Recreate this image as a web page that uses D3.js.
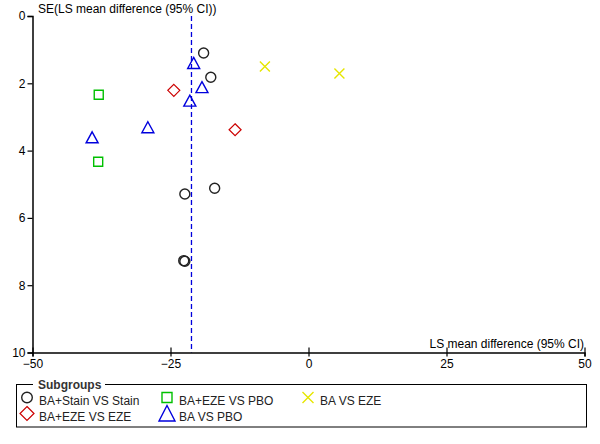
<!DOCTYPE html>
<html>
<head>
<meta charset="utf-8">
<script src="https://cdn.jsdelivr.net/npm/d3@7"></script>
<style>
  body { margin: 0; background: #fff; }
  text { font-family: "Liberation Sans", Arial, sans-serif; font-size: 12px; fill: #000; }
</style>
</head>
<body>
<svg id="chart" width="600" height="444"></svg>
<script>
// subgroups and their points: [LS mean difference, SE]
var groups = ["BA+Stain VS Stain", "BA+EZE VS PBO", "BA VS EZE", "BA+EZE VS EZE", "BA VS PBO"];
var stainPts = [[-19.0, 1.10], [-17.7, 1.82], [-22.4, 5.29], [-17.0, 5.12], [-22.6, 7.27], [-22.4, 7.29]];
var ezePboPts = [[-38.0, 2.34], [-38.1, 4.33]];
var baEzePts = [[-7.9, 1.50], [5.6, 1.71]];
var ezeEzePts = [[-24.4, 2.21], [-13.3, 3.38]];
var baPboPts = [[-20.8, 1.41], [-19.3, 2.13], [-21.5, 2.53], [-29.1, 3.32], [-39.2, 3.62]];
var pooledMean = -21.2;
var xTicks = [-50, -25, 0, 25, 50];
var yTicks = [0, 2, 4, 6, 8, 10];

var svg = d3.select("#chart");
var x = d3.scaleLinear().domain([-50, 50]).range([32.5, 584.5]);
var y = d3.scaleLinear().domain([0, 10]).range([16, 352.5]);

var markers = {
    "BA+Stain VS Stain": {color: "#222", shape: "circle", pts: stainPts},
    "BA+EZE VS PBO": {color: "#00c000", shape: "square", pts: ezePboPts},
    "BA VS EZE": {color: "#e6e600", shape: "cross", pts: baEzePts},
    "BA+EZE VS EZE": {color: "#cc0000", shape: "diamond", pts: ezeEzePts},
    "BA VS PBO": {color: "#0000dd", shape: "triangle", pts: baPboPts}
};

// marker outlines, plot size and legend size
var shapes = {
    circle: {plot: "c5", legend: "c5.3"},
    square: {plot: "M-4.5,-4.5h9v9h-9Z", legend: "M-5,-5h10v10h-10Z"},
    cross: {plot: "M-5,-5L5,5M-5,5L5,-5", legend: "M-5.5,-5.5L5.5,5.5M-5.5,5.5L5.5,-5.5"},
    diamond: {plot: "M0,-6L6,0L0,6L-6,0Z", legend: "M0,-7L7,0L0,7L-7,0Z"},
    triangle: {plot: "M0,-6L6,5L-6,5Z", legend: "M0,-8L8,7.5L-8,7.5Z"}
};

// draw one marker centred at (cx, cy)
function drawMarker(g, shape, color, cx, cy, kind) {
    var d = shapes[shape][kind];
    var s = g.append("g").attr("transform", "translate(" + cx + "," + cy + ")")
        .attr("fill", "none").attr("stroke", color).attr("stroke-width", shape == "diamond" ? 1.2 : 1.4);
    if (d[0] == "c") s.append("circle").attr("r", +d.slice(1));
    else s.append("path").attr("d", d);
}

// pooled mean line
svg.append("line")
    .attr("x1", x(pooledMean)).attr("x2", x(pooledMean))
    .attr("y1", y(0)).attr("y2", y(10))
    .attr("stroke", "#0000dd").attr("stroke-width", 1.3)
    .attr("stroke-dasharray", "5,3");

// axes
var xAxis = d3.axisBottom(x).tickValues(xTicks).tickSize(4).tickPadding(1).tickFormat(d3.format("d"));
var gx = svg.append("g").attr("transform", "translate(0," + y(10) + ")").call(xAxis);
gx.select(".domain").attr("stroke", "#000").attr("stroke-width", 1.5);
gx.selectAll(".tick line").attr("y1", -5).attr("y2", 4).attr("stroke-width", 1.2);
gx.selectAll("text").style("font-size", "12px").attr("dy", "0.85em");

var yAxis = d3.axisLeft(y).tickValues(yTicks).tickSize(5).tickPadding(2);
var gy = svg.append("g").attr("transform", "translate(" + x(-50) + ",0)").call(yAxis);
gy.select(".domain").attr("stroke", "#000").attr("stroke-width", 1.5);
gy.selectAll(".tick line").attr("stroke-width", 1.2);
gy.selectAll("text").style("font-size", "12px");

svg.append("text").attr("x", 38).attr("y", 13).text("SE(LS mean difference (95% CI))");
svg.append("text").attr("x", 584).attr("y", 348).attr("text-anchor", "end").text("LS mean difference (95% CI)");

// points
groups.forEach(function(name) {
    var m = markers[name];
    m.pts.forEach(function(p) {
        drawMarker(svg, m.shape, m.color, x(p[0]), y(p[1]), "plot");
    });
});

// legend
var legend = svg.append("g");
legend.append("rect").attr("x", 16.5).attr("y", 384.5).attr("width", 570).attr("height", 42.5)
    .attr("fill", "none").attr("stroke", "#000").attr("stroke-width", 1);
legend.append("rect").attr("x", 33).attr("y", 380).attr("width", 72).attr("height", 10).attr("fill", "#fff");
legend.append("text").attr("x", 38).attr("y", 389).style("font-weight", "bold").style("fill", "#333").text("Subgroups");

var cols = [27, 167, 308];
var rows = [397.5, 413.5];
groups.forEach(function(name, i) {
    var c = i % 3, r = Math.floor(i / 3);
    var m = markers[name];
    drawMarker(legend, m.shape, m.color, cols[c], rows[r], "legend");
    legend.append("text").attr("x", cols[c] + 12).attr("y", rows[r] + 7.5).style("fill", "#222").text(name);
});
</script>
</body>
</html>
